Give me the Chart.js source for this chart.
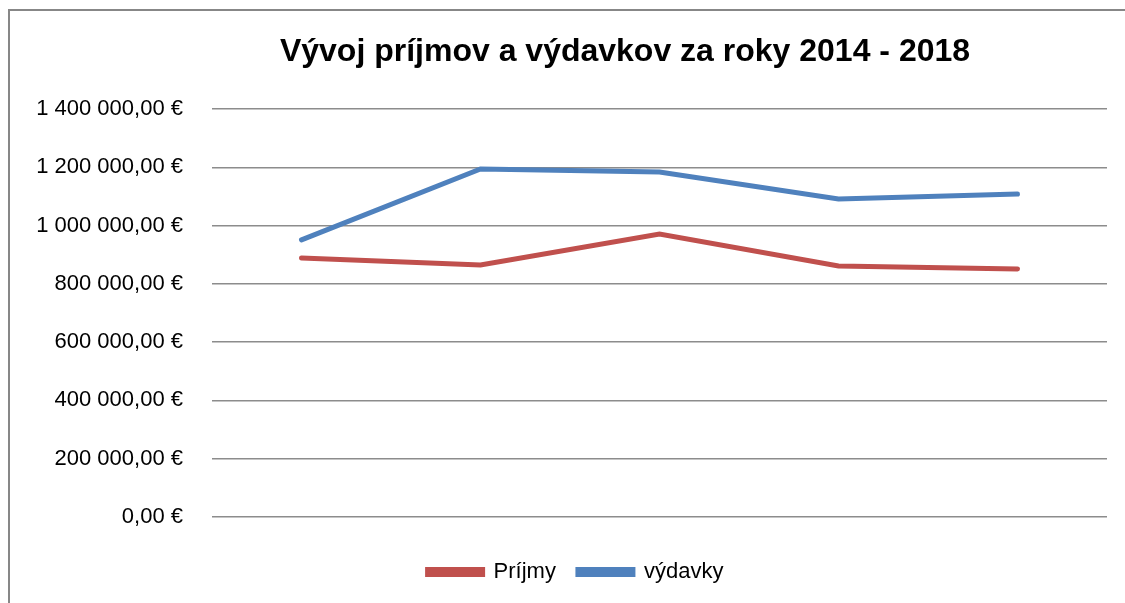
<html>
<head>
<meta charset="utf-8">
<title>Vývoj príjmov a výdavkov</title>
<script src="https://cdn.jsdelivr.net/npm/chart.js@4.4.1/dist/chart.umd.min.js"></script>
<style>
	body { margin: 0; background: #fff; }
	#frame { position: absolute; left: 8px; top: 9px; width: 1300px; height: 800px; border-left: 2px solid #878787; border-top: 2px solid #878787; }
	#canvas { position: absolute; left: 0; top: 0; }
</style>
</head>
<body>
	<div id="frame"></div>
	<canvas id="canvas" width="1125" height="603"></canvas>

	<script>
		// data
		var roky = ['2014', '2015', '2016', '2017', '2018'];
		var prijmy = [889000, 865000, 971000, 861000, 851000];
		var vydavky = [951000, 1194000, 1184000, 1091000, 1108000];
		var yTicks = [0, 200000, 400000, 600000, 800000, 1000000, 1200000, 1400000];

		function euro(v) {
			var s = Math.round(v).toString().replace(/\B(?=(\d{3})+(?!\d))/g, ' ');
			return s + ',00 €';
		}

		// move title and legend a bit to the right, like in the original
		var shiftBoxes = {
			id: 'shiftBoxes',
			afterLayout: function(chart) {
				if (chart.titleBlock) {
					chart.titleBlock.left = 125;
					chart.titleBlock.right = 1125;
				}
				if (chart.legend) {
					chart.legend.left += 16;
					chart.legend.right += 16;
				}
			}
		};

		var font = "'Liberation Sans', Arial, sans-serif";

		new Chart(document.getElementById('canvas'), {
			type: 'line',
			plugins: [shiftBoxes],
			data: {
				labels: roky,
				datasets: [{
					label: 'Príjmy',
					data: prijmy,
					borderColor: '#C0504D',
					backgroundColor: '#C0504D',
					borderWidth: 5,
					borderCapStyle: 'round',
					pointRadius: 0,
					tension: 0,
					fill: false
				}, {
					label: 'výdavky',
					data: vydavky,
					borderColor: '#4F81BD',
					backgroundColor: '#4F81BD',
					borderWidth: 5,
					borderCapStyle: 'round',
					pointRadius: 0,
					tension: 0,
					fill: false
				}]
			},
			options: {
				responsive: false,
				animation: false,
				devicePixelRatio: 1,
				layout: { padding: { left: 12, right: 18, top: 0, bottom: 10 } },
				plugins: {
					title: {
						display: true,
						text: 'Vývoj príjmov a výdavkov za roky 2014 - 2018',
						color: '#000',
						font: { family: font, size: 32, weight: 'bold', lineHeight: 1.2 },
						padding: { top: 33, bottom: 37.6 }
					},
					legend: {
						position: 'bottom',
						labels: {
							color: '#000',
							font: { family: font, size: 22 },
							boxWidth: 55,
							boxHeight: 5,
							padding: 22
						}
					},
					tooltip: { enabled: false }
				},
				scales: {
					x: {
						offset: true,
						ticks: { display: false },
						grid: { display: false },
						border: { display: false },
						afterFit: function(s) { s.height = 22; }
					},
					y: {
						min: 0,
						max: 1400000,
						afterBuildTicks: function(s) { s.ticks = yTicks.map(function(v) { return { value: v }; }); },
						afterFit: function(s) { s.width = 200; },
						ticks: {
							color: '#000',
							padding: 29,
							font: { family: font, size: 22 },
							callback: function(v) { return euro(v); }
						},
						grid: { color: '#8c8c8c', lineWidth: 1.5, drawTicks: false },
						border: { display: false }
					}
				}
			}
		});
	</script>
</body>
</html>
